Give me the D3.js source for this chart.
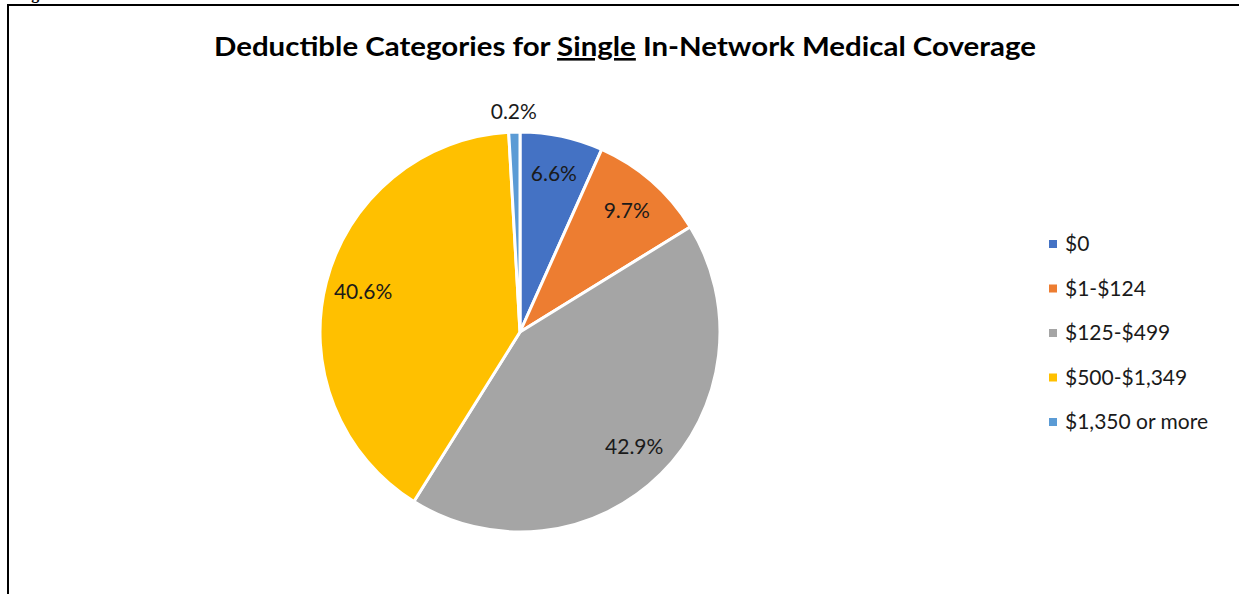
<!DOCTYPE html>
<html>
<head>
<meta charset="utf-8">
<script src="https://cdn.jsdelivr.net/npm/d3@7/dist/d3.min.js"></script>
<style>
  body { margin: 0; background: #fff; }
  svg { display: block; }
</style>
</head>
<body>
<svg id="chart" width="1239" height="594"></svg>
<script>
let categories = ["$0", "$1-$124", "$125-$499", "$500-$1,349", "$1,350 or more"];
// slice shares as drawn in the picture
let shares = [6.7, 9.5, 42.7, 40.2, 0.9];
// data label text as printed on the chart
let pctLabels = ["6.6%", "9.7%", "42.9%", "40.6%", "0.2%"];
let colors = ["#4472C4", "#ED7D31", "#A5A5A5", "#FFC000", "#5B9BD5"];

let svg = d3.select("#chart");
let font = "Lato, 'Open Sans', sans-serif";

// frame from the surrounding document (only the descender of its caption shows)
svg.append("text")
  .text("Figure 1")
  .attr("x", 17)
  .attr("y", -1.5)
  .style("font-family", "'Liberation Serif', serif")
  .style("font-size", "16px")
  .style("font-weight", "bold");

svg.append("path")
  .attr("d", "M8,594V5H1239")
  .attr("fill", "none")
  .attr("stroke", "#000")
  .attr("stroke-width", 2);

// title
let title = svg.append("text")
  .attr("x", 625)
  .attr("y", 56)
  .attr("text-anchor", "middle")
  .attr("textLength", 822)
  .attr("lengthAdjust", "spacingAndGlyphs")
  .style("font-family", font)
  .style("font-size", "26px")
  .style("font-weight", "bold")
  .attr("fill", "#000");
title.append("tspan").text("Deductible Categories for ");
title.append("tspan").text("Single").style("text-decoration", "underline");
title.append("tspan").text(" In-Network Medical Coverage");

// pie
let cx = 520, cy = 332, R = 200;
let pie = d3.pie().sort(null).value(d => d);
let arcs = pie(shares);
let arc = d3.arc().innerRadius(0).outerRadius(R);
let labelArc = d3.arc().innerRadius(R * 0.81).outerRadius(R * 0.81);
let outArc = d3.arc().innerRadius(R * 1.1).outerRadius(R * 1.1);

let g = svg.append("g").attr("transform", `translate(${cx},${cy})`);

g.selectAll("path.slice")
  .data(arcs)
  .enter()
  .append("path")
  .attr("class", "slice")
  .attr("d", arc)
  .attr("fill", (d, i) => colors[i])
  .attr("stroke", "#fff")
  .attr("stroke-width", 3)
  .attr("stroke-linejoin", "round");

g.selectAll("text.pct")
  .data(arcs)
  .enter()
  .append("text")
  .attr("class", "pct")
  .text((d, i) => pctLabels[i])
  .attr("transform", d => `translate(${(d.data < 1 ? outArc : labelArc).centroid(d)})`)
  .attr("text-anchor", "middle")
  .attr("dy", "0.35em")
  .style("font-family", font)
  .style("font-size", "21px")
  .attr("fill", "#1a1a1a");

// legend
let legend = svg.append("g").attr("transform", "translate(1049,244)");
let rows = legend.selectAll("g")
  .data(categories)
  .enter()
  .append("g")
  .attr("transform", (d, i) => `translate(0,${i * 44.5})`);

rows.append("rect")
  .attr("x", 0)
  .attr("y", -4)
  .attr("width", 8)
  .attr("height", 8)
  .attr("fill", (d, i) => colors[i]);

rows.append("text")
  .text(d => d)
  .attr("x", 16)
  .attr("dy", "0.35em")
  .style("font-family", font)
  .style("font-size", "21px")
  .attr("fill", "#1a1a1a");
</script>
</body>
</html>
